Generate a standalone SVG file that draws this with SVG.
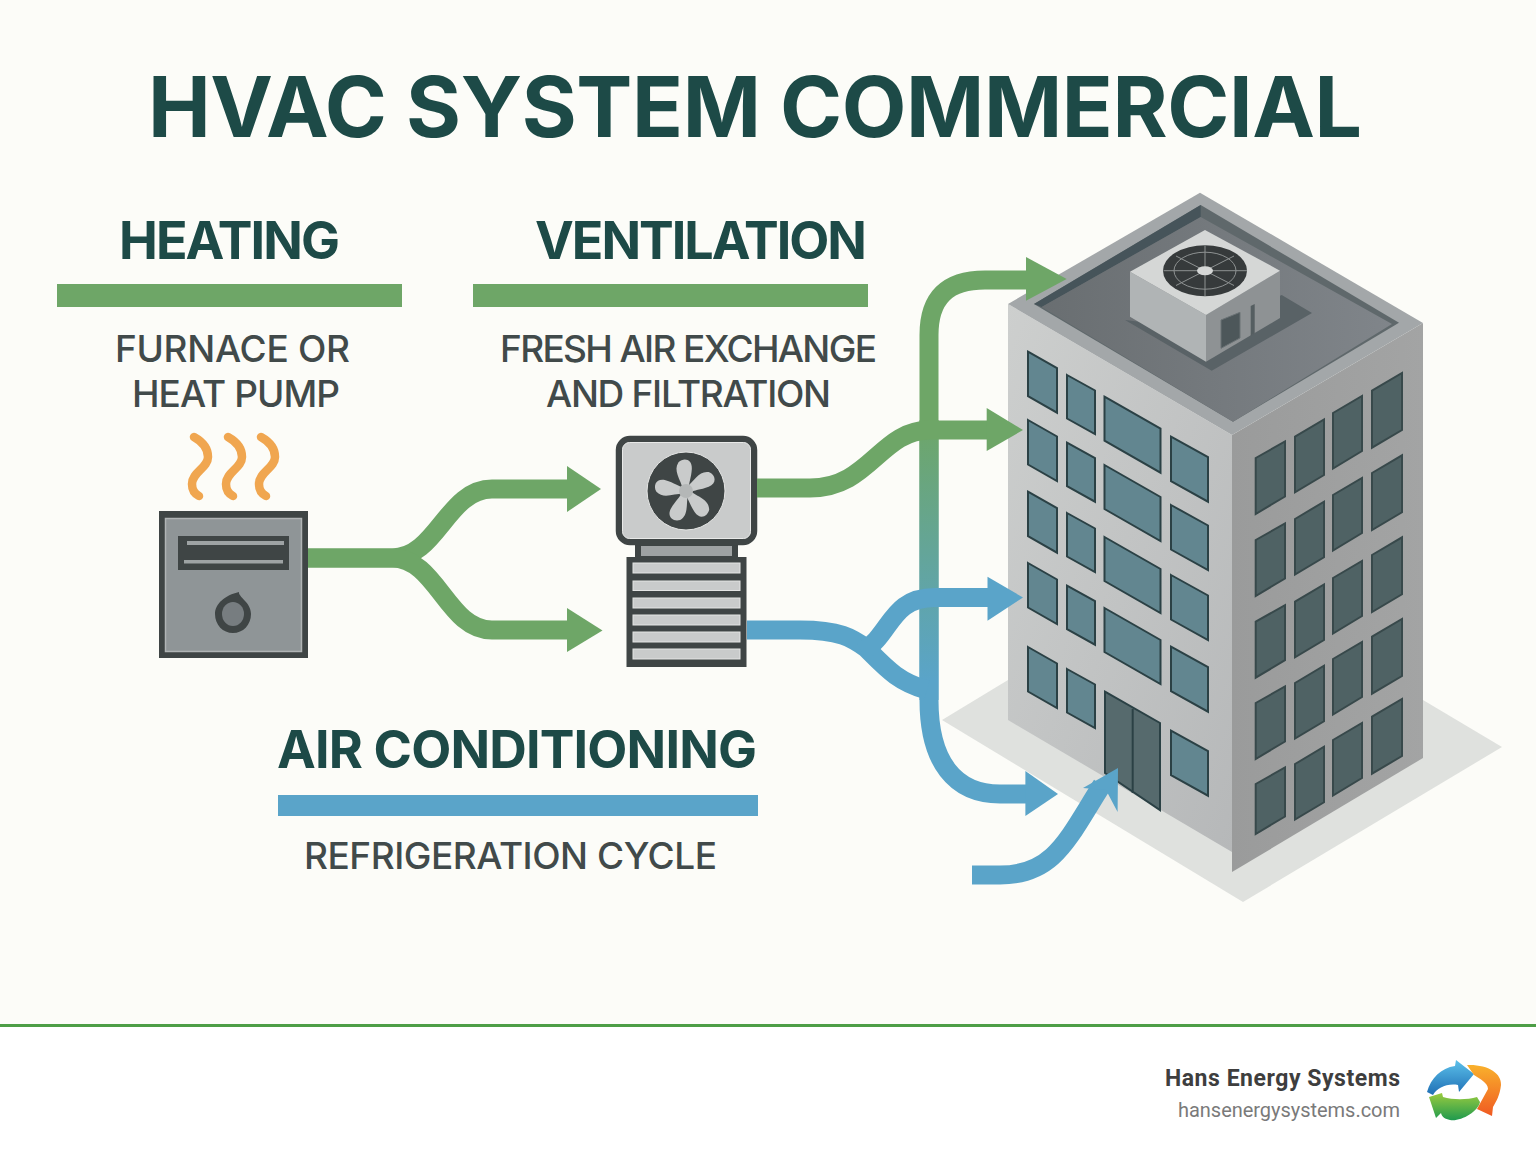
<svg xmlns="http://www.w3.org/2000/svg" width="1536" height="1154" viewBox="0 0 1536 1154">
<style>
text{font-family:Roboto,"Liberation Sans",sans-serif}
.h1{font-family:Inter,Roboto,sans-serif;font-size:84px;font-weight:700;fill:#1d4a47}
.h2{font-family:Inter,Roboto,sans-serif;font-size:52px;font-weight:700;fill:#1d4a47}
.sub{font-family:Inter,Roboto,sans-serif;font-size:37px;font-weight:500;fill:#414a4a}
.dark{fill:#3f4545}
.slat{fill:#c9cbcb;stroke:#e4e5e4;stroke-width:1}
.lg{fill:none;stroke:#6ea667;stroke-width:19}
.lb{fill:none;stroke:#5aa4c9;stroke-width:19}
.hg{fill:#6ea667}
.hb{fill:#5aa4c9}
.flame{fill:none;stroke:#f0a650;stroke-width:8.500;stroke-linecap:round}
.wl{fill:#628690;stroke:#2b4145;stroke-width:2}
.wr{fill:#4f6264;stroke:#38494b;stroke-width:2}
.blade{fill:#c9cbcb}
</style>
<defs>
<linearGradient id="pipe" gradientUnits="userSpaceOnUse" x1="0" y1="420" x2="0" y2="680"><stop offset="0" stop-color="#6ea667"/><stop offset="1" stop-color="#5aa4c9"/></linearGradient>
<linearGradient id="fl" x1="0" y1="0" x2="1" y2="1"><stop offset="0" stop-color="#cdcfce"/><stop offset="1" stop-color="#b6b8b9"/></linearGradient>
<linearGradient id="fr" x1="0" y1="0" x2="1" y2="0"><stop offset="0" stop-color="#9a9b9b"/><stop offset="1" stop-color="#a3a4a4"/></linearGradient>
<linearGradient id="floor" x1="0" y1="0" x2="1" y2="0"><stop offset="0" stop-color="#696e71"/><stop offset="1" stop-color="#80858a"/></linearGradient>
<linearGradient id="lb" x1="0" y1="0" x2="0" y2="1"><stop offset="0" stop-color="#5cc1ea"/><stop offset="1" stop-color="#1f6fb5"/></linearGradient>
<linearGradient id="lo" x1="0" y1="0" x2="0" y2="1"><stop offset="0" stop-color="#f9b12c"/><stop offset="1" stop-color="#f05a22"/></linearGradient>
<linearGradient id="lgr" x1="0" y1="0" x2="0" y2="1"><stop offset="0" stop-color="#9acb3f"/><stop offset="1" stop-color="#1f9a4e"/></linearGradient>
</defs>

<rect id="background" width="1536" height="1025" fill="#fcfcf8"/>
<rect id="footer" y="1025" width="1536" height="129" fill="#ffffff"/>
<rect id="footer-line" y="1024" width="1536" height="3" fill="#4d9e46"/>

<g id="title"><text class="h1" x="148" y="137" textLength="1214" lengthAdjust="spacing">HVAC SYSTEM COMMERCIAL</text></g>

<g id="heating-label">
<text class="h2" x="119" y="259" textLength="221" lengthAdjust="spacing">HEATING</text>
<rect x="57" y="284" width="345" height="23" class="hg"/>
<text class="sub" x="115" y="362" textLength="235" lengthAdjust="spacing">FURNACE OR</text>
<text class="sub" x="132" y="407" textLength="208" lengthAdjust="spacing">HEAT PUMP</text>
</g>
<g id="ventilation-label">
<text class="h2" x="535" y="259" textLength="332" lengthAdjust="spacing">VENTILATION</text>
<rect x="473" y="284" width="395" height="23" class="hg"/>
<text class="sub" x="500" y="362" textLength="377" lengthAdjust="spacing">FRESH AIR EXCHANGE</text>
<text class="sub" x="546" y="407" textLength="285" lengthAdjust="spacing">AND FILTRATION</text>
</g>
<g id="ac-label">
<text class="h2" x="277" y="768" textLength="480" lengthAdjust="spacing">AIR CONDITIONING</text>
<rect x="278" y="795" width="480" height="21" class="hb"/>
<text class="sub" x="304" y="869" textLength="413" lengthAdjust="spacing">REFRIGERATION CYCLE</text>
</g>

<g id="furnace">
<path class="flame" d="M194 437C203 442 208 449 208 457C208 468 192 472 192 484C192 490 195 494 199 496"/>
<path class="flame" d="M228 437C237 442 242 449 242 457C242 468 226 472 226 484C226 490 229 494 233 496"/>
<path class="flame" d="M261 437C270 442 275 449 275 457C275 468 259 472 259 484C259 490 262 494 266 496"/>
<rect x="159" y="511" width="149" height="147" class="dark"/>
<rect x="165.500" y="518.500" width="136" height="133" fill="#8f9597" stroke="#b0b4b5" stroke-width="1.500"/>
<rect x="178" y="536" width="111" height="34" class="dark"/>
<rect x="187" y="541" width="97" height="4" fill="#9ea3a4"/>
<rect x="184" y="560" width="99" height="3.500" fill="#9ea3a4"/>
<path class="dark" d="M239 592C238 597 251 602 251 614C251 625 243 633 233 633C223 633 215 625 215 614C215 604 225 595 239 592Z"/>
<ellipse cx="233" cy="614" rx="11" ry="12" fill="#777d80"/>
</g>

<g id="ventilation-unit">
<rect x="635" y="543" width="103" height="16" class="dark"/>
<rect x="641" y="546" width="91" height="10" fill="#9ea2a3"/>
<rect x="619" y="439" width="135" height="103" rx="11" fill="#c9cbcb" stroke="#3f4545" stroke-width="6.500"/>
<rect x="622.500" y="442.500" width="128" height="96" rx="7" fill="none" stroke="#e8e9e8" stroke-width="1"/>
<circle cx="686" cy="491" r="39" class="dark" stroke="#e4e5e4" stroke-width="1"/>
<g transform="translate(686 491)">
<path class="blade" d="M-3 -2C-5 -12 -12 -21 -6 -29C0 -34 8 -31 7 -22C6 -13 3 -8 3 -2Z" transform="rotate(-3)"/>
<path class="blade" d="M-3 -2C-5 -12 -12 -21 -6 -29C0 -34 8 -31 7 -22C6 -13 3 -8 3 -2Z" transform="rotate(62)"/>
<path class="blade" d="M-3 -2C-5 -12 -12 -21 -6 -29C0 -34 8 -31 7 -22C6 -13 3 -8 3 -2Z" transform="rotate(140)"/>
<path class="blade" d="M-3 -2C-5 -12 -12 -21 -6 -29C0 -34 8 -31 7 -22C6 -13 3 -8 3 -2Z" transform="rotate(203)"/>
<path class="blade" d="M-3 -2C-5 -12 -12 -21 -6 -29C0 -34 8 -31 7 -22C6 -13 3 -8 3 -2Z" transform="rotate(280)"/>
<circle r="7" fill="#b4b7b7"/>
</g>
<rect x="626.500" y="557" width="120" height="110" class="dark"/>
<rect class="slat" x="633" y="563" width="107" height="10"/>
<rect class="slat" x="633" y="581" width="107" height="9.500"/>
<rect class="slat" x="633" y="598" width="107" height="10"/>
<rect class="slat" x="633" y="615" width="107" height="10"/>
<rect class="slat" x="633" y="632" width="107" height="10"/>
<rect class="slat" x="633" y="649" width="107" height="10"/>
</g>

<g id="building">
<polygon points="942,720 1008,680 1423,700 1502,747 1243,902" fill="#dfe1de"/>
<polygon points="1008,304 1232,435 1232,852 1008,720" fill="url(#fl)"/>
<polygon points="1232,435 1423,323 1423,758 1232,872" fill="url(#fr)"/>
<polygon points="1200,192.700 1423,323 1232,435 1008,304" fill="#a3a7a9"/>
<polygon points="1200.700,205 1399,322.700 1233,421.700 1034,304" fill="#5f686b"/>
<polygon points="1200.700,205 1200.700,217 1041.700,307 1034,304" fill="#46545a"/>
<polygon points="1200.700,217 1392,324 1233,421.700 1041.700,307" fill="url(#floor)"/>
<polygon points="1125,320 1211.700,370.700 1312,313 1281.700,295 1206,330" fill="#596266"/>
<polygon points="1130,271.700 1206,315 1206,361.700 1130,316.700" fill="#b0b4b5"/>
<polygon points="1206,315 1280,270.700 1280,318 1206,361.700" fill="#8e9294"/>
<polygon points="1205,230 1280,270.700 1206,315 1130,271.700" fill="#d5d7d6"/>
<ellipse cx="1205" cy="270.700" rx="42" ry="25.500" fill="#363a3b"/>
<g fill="none" stroke="#8e9292" stroke-width="1">
<ellipse cx="1205" cy="270.700" rx="31" ry="18.500"/>
<path d="M1205 245.500V296M1163.500 270.700H1247M1176 256L1234 285.500M1176 285.500L1234 256"/>
</g>
<ellipse cx="1205" cy="270.700" rx="8" ry="4.500" fill="#d5d7d6"/>
<polygon points="1221,320 1240,312.300 1240,338 1221,348.300" fill="#4d575a" stroke="#6a7275" stroke-width="1"/>
<polygon points="1250.700,306 1254.700,304 1254.700,333.300 1250.700,336" fill="#555e61"/>
<path class="wl" d="M1028 351.700l29 16.500v44.500l-29 -16.500zM1028 420l29 16.500v44.500l-29 -16.500zM1028 491.700l29 16.500v44.500l-29 -16.500zM1028 563l29 16.500v44.500l-29 -16.500zM1028 647l29 16.500v44.500l-29 -16.500z"/>
<path class="wl" d="M1067 375l28 15.500v43.500l-28 -15.500zM1067 442.700l28 15.500v43.500l-28 -15.500zM1067 513l28 15.500v43.500l-28 -15.500zM1067 585.700l28 15.500v43.500l-28 -15.500zM1067 669l28 15.500v43.500l-28 -15.500z"/>
<path class="wl" d="M1104.500 396.700l56 32v44l-56 -32zM1104.500 465l56 32v44l-56 -32zM1104.500 537l56 32v44l-56 -32zM1104.500 608l56 32v44l-56 -32z"/>
<path class="wl" d="M1171 436.700l37 20.500v44.500l-37 -20.500zM1171 505l37 20.500v44.500l-37 -20.500zM1171 575l37 20.500v44.500l-37 -20.500zM1171 646.700l37 20.500v44.500l-37 -20.500zM1171 730.700l37 20.500v44.500l-37 -20.500z"/>
<polygon points="1105,691.700 1160,723 1160,810 1105,773" fill="#566a6d" stroke="#2b4145" stroke-width="2"/>
<path d="M1132.700 709V793" stroke="#2b4145" stroke-width="2" fill="none"/>
<path class="wr" d="M1255.700 458l29.300 -16.500v55l-29.300 17.500zM1255.700 540l29.300 -16.500v55l-29.300 17.500zM1255.700 621.700l29.300 -16.500v55l-29.300 17.500zM1255.700 703l29.300 -16.500v55l-29.300 17.500zM1255.700 784l29.300 -16.500v49l-29.300 17.500z"/>
<path class="wr" d="M1295 436.700l29 -17.300v55.600l-29 17.300zM1295 519l29 -17.300v55.600l-29 17.300zM1295 601.700l29 -17.300v55.600l-29 17.300zM1295 683l29 -17.300v55.600l-29 17.300zM1295 764l29 -17.300v55.600l-29 17.300z"/>
<path class="wr" d="M1333 413l29 -17v55l-29 17.500zM1333 495l29 -17v55l-29 17.500zM1333 578l29 -17v55l-29 17.500zM1333 659l29 -17v55l-29 17.500zM1333 740l29 -17v55l-29 17.500z"/>
<path class="wr" d="M1372 390.700l30 -17.700v57l-30 17.700zM1372 473l30 -17.700v57l-30 17.700zM1372 555l30 -17.700v57l-30 17.700zM1372 636.700l30 -17.700v57l-30 17.700zM1372 716.700l30 -17.700v57l-30 17.700z"/>
</g>

<g id="connectors">
<path d="M308 558H392C437 558 447 489 492 489H570" class="lg"/>
<path d="M308 558H392C437 558 447 630 492 630H570" class="lg"/>
<polygon class="hg" points="567,466 601,489 567,512"/>
<polygon class="hg" points="567,608 602.500,630.500 567,652"/>
<path d="M929 700V335C929 298 947 280 985 280H1030" fill="none" stroke="url(#pipe)" stroke-width="19"/>
<path d="M929 420V700C929 762 955 794 1000 794H1028" fill="none" stroke="url(#pipe)" stroke-width="19"/>
<polygon class="hg" points="1026,257 1066.700,279 1026,300.700"/>
<path d="M757 488H810C870 488 880 430 930 430H990" class="lg"/>
<polygon class="hg" points="986.700,408 1023,430 986.700,451"/>
<polygon class="hb" points="1025.400,771 1058,794 1025.400,816"/>
<path d="M747 630H800C840 630 852 638 866 648C886 668 898 682 927 690" class="lb"/>
<path d="M862 652C892 634 890 597.500 935 597.500H990" class="lb"/>
<polygon class="hb" points="987.500,576.700 1023,597.500 987.500,620.700"/>
<path d="M972 875H1000C1055 875 1068 838 1102 785" class="lb"/>
<polygon class="hb" points="1118,768 1117.600,812 1106,790 1083,788"/>
</g>

<g id="brand">
<text x="1165" y="1086" font-size="23" font-weight="700" fill="#3e3e3e" textLength="235" lengthAdjust="spacing">Hans Energy Systems</text>
<text x="1178" y="1117" font-size="20" fill="#7a7a7a" textLength="222" lengthAdjust="spacing">hansenergysystems.com</text>
<path fill="url(#lb)" d="M1427 1092C1431 1078 1441 1068 1455 1066L1456 1060L1474 1074L1459 1092L1458 1085C1447 1083 1437 1088 1433 1095Z"/>
<path fill="url(#lo)" d="M1467 1065C1487 1064 1502 1073 1501 1085C1500 1095 1496 1102 1493 1107L1492 1116L1477 1109L1488 1089C1488 1083 1480 1079 1474 1075Z"/>
<path fill="url(#lgr)" d="M1436 1118L1429 1097L1442 1093L1443 1097C1453 1100 1467 1100 1477 1097L1480 1102C1478 1112 1460 1122 1450 1120C1445 1119 1442 1117 1441 1113Z"/>
</g>
</svg>
